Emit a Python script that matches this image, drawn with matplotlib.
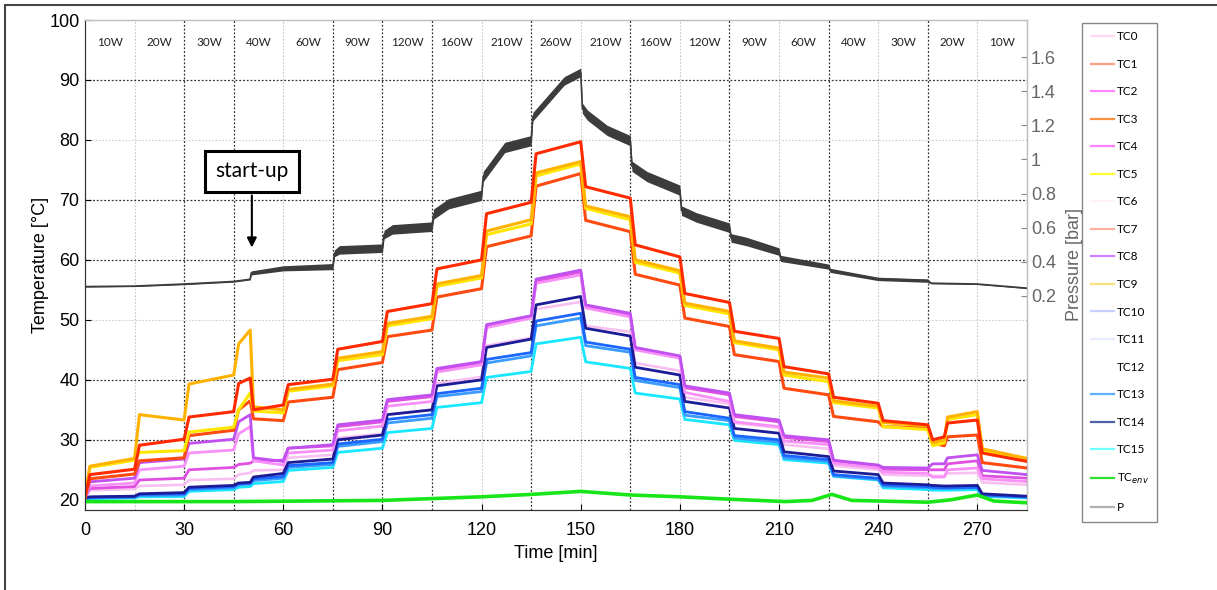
import matplotlib.pyplot as plt
from matplotlib.lines import Line2D
from matplotlib.patches import Rectangle

plt.rcParams['font.family'] = ['Liberation Sans', 'DejaVu Sans']

# time knots [min] for thermocouple traces: start of step, knee after step, end of step
t_knots = [0, 1.5, 15, 16.5, 30, 31.5, 45, 46.5, 50, 51, 60, 61.5, 75, 76.5, 90, 91.5,
           105, 106.5, 120, 121.5, 135, 136.5, 150, 151.5, 165, 166.5, 180, 181.5,
           195, 196.5, 210, 211.5, 225, 226.5, 240, 241.5, 255, 256.5, 260, 261,
           270, 271.5, 285]

tc3 = [20.4, 24.2, 25.1, 29.1, 30.1, 33.8, 34.7, 39.4, 40.3, 35.0, 35.8, 39.2, 40.1, 45.1, 46.4,
       51.4, 52.7, 58.5, 60.0, 67.7, 69.6, 77.7, 79.7, 72.2, 70.3, 62.5, 60.5, 54.4, 52.9,
       48.1, 46.9, 42.2, 41.0, 37.1, 36.1, 33.2, 32.5, 30.0, 30.5, 32.8, 33.3, 27.8, 26.4]
tc9 = [20.5, 25.6, 26.9, 34.2, 33.3, 39.3, 40.8, 46.0, 48.3, 35.5, 35.0, 38.4, 39.3, 43.6, 44.7,
       49.4, 50.6, 56.0, 57.4, 64.8, 66.7, 74.5, 76.4, 69.0, 67.2, 60.0, 58.2, 52.8, 51.4,
       46.5, 45.3, 41.3, 40.3, 36.5, 35.6, 32.9, 32.3, 29.5, 30.0, 33.8, 34.7, 28.5, 26.9]
tc5 = [20.4, 25.4, 26.6, 27.9, 28.2, 31.3, 32.1, 35.0, 37.8, 34.8, 34.5, 38.1, 39.0, 43.2, 44.2,
       49.0, 50.2, 55.6, 57.0, 64.2, 66.0, 74.0, 76.0, 68.6, 66.7, 59.6, 57.8, 52.4, 51.0,
       46.2, 45.0, 40.8, 39.7, 36.2, 35.3, 32.2, 31.7, 29.0, 29.5, 33.4, 34.2, 28.3, 26.7]
tc1 = [20.4, 23.5, 24.3, 26.5, 27.0, 30.7, 31.6, 35.0, 36.5, 33.5, 33.2, 36.3, 37.1, 41.7, 42.9,
       47.2, 48.3, 53.8, 55.2, 62.2, 64.0, 72.3, 74.4, 66.6, 64.7, 57.6, 55.8, 50.3, 48.9,
       44.2, 43.05, 38.6, 37.5, 33.9, 33.0, 32.2, 32.0, 29.5, 29.0, 30.5, 30.8, 26.2, 25.3]
tc8 = [20.4, 23.0, 23.6, 26.2, 26.8, 29.4, 30.1, 33.0, 34.2, 27.0, 26.4, 28.6, 29.2, 32.5, 33.3,
       36.7, 37.5, 41.9, 43.05, 49.2, 50.7, 56.8, 58.3, 52.5, 51.1, 45.4, 44.0, 39.0, 37.8,
       34.2, 33.3, 30.7, 30.0, 26.6, 25.8, 25.4, 25.3, 26.0, 26.0, 27.0, 27.5, 24.9, 24.2]
tc2 = [20.4, 22.3, 22.8, 25.0, 25.6, 27.8, 28.3, 31.0, 32.2, 26.5, 25.8, 27.8, 28.3, 31.5, 32.3,
       35.6, 36.4, 41.3, 42.5, 48.7, 50.3, 56.1, 57.5, 52.0, 50.5, 45.0, 43.6, 37.9, 36.4,
       33.0, 32.2, 29.8, 29.2, 26.1, 25.3, 24.6, 24.4, 23.8, 23.8, 25.0, 25.3, 23.5, 23.05]
tc4 = [20.3, 21.9, 22.2, 23.3, 23.6, 25.0, 25.4, 25.9, 26.1, 26.5, 26.6, 28.6, 29.0, 32.2, 33.0,
       36.4, 37.2, 41.7, 42.8, 48.9, 50.5, 56.4, 58.0, 52.3, 50.8, 45.2, 43.8, 38.7, 37.5,
       33.9, 33.0, 30.4, 29.7, 26.5, 25.6, 25.1, 25.0, 25.0, 25.0, 26.0, 26.5, 24.0, 23.6]
tc0 = [20.3, 21.6, 21.8, 22.3, 22.5, 23.3, 23.5, 24.2, 24.5, 24.9, 25.0, 27.0, 27.5, 30.3, 31.0,
       34.2, 35.0, 39.4, 40.5, 45.7, 47.0, 51.8, 53.0, 49.0, 48.0, 42.8, 41.5, 37.1, 36.0,
       32.8, 32.0, 29.2, 28.5, 25.7, 25.0, 24.2, 24.0, 24.0, 24.0, 24.4, 24.5, 22.9, 22.5]
tc14 = [20.3, 20.5, 20.6, 21.0, 21.2, 22.1, 22.4, 22.8, 22.9, 23.8, 24.4, 26.2, 26.8, 30.0, 30.8,
        34.2, 35.0, 39.0, 40.0, 45.4, 46.8, 52.5, 53.9, 48.6, 47.3, 42.1, 40.8, 36.4, 35.3,
        31.9, 31.1, 28.0, 27.2, 24.8, 24.2, 22.8, 22.5, 22.4, 22.3, 22.3, 22.4, 21.0, 20.6]
tc13 = [20.2, 20.4, 20.5, 20.9, 21.0, 21.9, 22.2, 22.7, 22.8, 23.5, 23.9, 25.7, 26.2, 29.3, 30.1,
        33.4, 34.2, 37.7, 38.6, 43.4, 44.55, 49.8, 51.1, 46.3, 45.1, 40.4, 39.2, 34.7, 33.6,
        30.7, 30.0, 27.4, 26.7, 24.2, 23.6, 22.5, 22.2, 22.1, 22.0, 22.0, 22.1, 20.8, 20.5]
tc10 = [20.2, 20.3, 20.4, 20.7, 20.8, 21.7, 22.0, 22.5, 22.6, 23.2, 23.6, 25.4, 25.9, 28.9, 29.7,
        32.8, 33.6, 37.2, 38.05, 42.8, 44.0, 49.0, 50.3, 45.7, 44.6, 39.9, 38.7, 34.1, 33.2,
        30.3, 29.6, 27.0, 26.4, 24.0, 23.4, 22.3, 22.0, 21.9, 21.9, 21.9, 22.0, 20.7, 20.4]
tc15 = [20.1, 20.2, 20.3, 20.5, 20.55, 21.4, 21.7, 22.1, 22.2, 22.7, 23.05, 24.9, 25.4, 27.9, 28.6,
        31.2, 31.9, 35.4, 36.2, 40.4, 41.4, 46.0, 47.1, 43.0, 41.9, 37.8, 36.8, 33.4, 32.5,
        29.9, 29.2, 26.7, 26.1, 23.9, 23.3, 22.0, 21.7, 21.6, 21.6, 21.6, 21.7, 20.6, 20.3]

env_time = [0, 45, 90, 120, 135, 150, 165, 180, 195, 212, 220, 226, 232, 240, 255, 262, 270, 275, 285]
tc_env = [19.7, 19.7, 19.9, 20.5, 20.9, 21.4, 20.8, 20.5, 20.1, 19.7, 19.9, 20.9, 19.9, 19.8, 19.6,
          20.0, 20.8, 19.8, 19.5]

# pressure [bar] and the half width of its noise band
p_time = [0, 15, 30, 45, 50, 50.3, 60, 75, 75.5, 77, 90, 90.5, 93, 105, 105.5, 110, 120, 120.5,
          127, 135, 135.5, 145, 150, 150.5, 152, 158, 165, 165.5, 170, 180, 180.5, 185, 195,
          195.5, 200, 210, 210.5, 225, 225.5, 240, 255, 256, 270, 285]
pressure = [0.255, 0.258, 0.27, 0.285, 0.298, 0.335, 0.362, 0.372, 0.45, 0.47, 0.48, 0.56, 0.59,
            0.606, 0.68, 0.74, 0.79, 0.90, 1.07, 1.11, 1.25, 1.46, 1.51, 1.30, 1.26, 1.17, 1.11,
            0.96, 0.90, 0.82, 0.70, 0.66, 0.60, 0.54, 0.52, 0.46, 0.42, 0.372, 0.35, 0.30, 0.29,
            0.275, 0.27, 0.246]
p_band = [0.003, 0.003, 0.004, 0.004, 0.004, 0.012, 0.015, 0.018, 0.02, 0.025, 0.025, 0.025,
          0.028, 0.028, 0.03, 0.03, 0.03, 0.03, 0.03, 0.03, 0.025, 0.025, 0.025, 0.03, 0.03,
          0.03, 0.03, 0.03, 0.03, 0.03, 0.028, 0.028, 0.028, 0.025, 0.025, 0.022, 0.018, 0.015,
          0.012, 0.01, 0.01, 0.004, 0.003, 0.003]

power_pos = [7.5, 22.5, 37.5, 52.5, 67.5, 82.5, 97.5, 112.5, 127.5, 142.5, 157.5, 172.5, 187.5,
             202.5, 217.5, 232.5, 247.5, 262.5, 277.5]
power_labels = ['10W', '20W', '30W', '40W', '60W', '90W', '120W', '160W', '210W', '260W', '210W',
                '160W', '120W', '90W', '60W', '40W', '30W', '20W', '10W']

legend_labels = ['TC0', 'TC1', 'TC2', 'TC3', 'TC4', 'TC5', 'TC6', 'TC7', 'TC8', 'TC9', 'TC10',
                 'TC11', 'TC12', 'TC13', 'TC14', 'TC15', 'TC$_{env}$', 'P']
legend_colors = ['#ffd8f4', '#ffa088', '#ff88ff', '#ff9040', '#ff80ff', '#ffff30', '#fff0fc',
                 '#ffb0a0', '#d080ff', '#ffe080', '#c8d0ff', '#e8ecff', '#ffffff', '#60b0ff',
                 '#5060a8', '#70ffff', '#30e030', '#b0b0b0']

fig = plt.figure(figsize=(12.17, 5.90), dpi=100)
ax = fig.add_axes([0.0698, 0.1356, 0.774, 0.8305])
ax2 = ax.twinx()

# grid
for x in [30, 45, 75, 90, 105, 135, 165, 195, 225, 255]:
    ax.axvline(x, color='#333333', ls=(0, (1.5, 1.5)), lw=0.9, zorder=0)
for x in [15, 60, 120, 150, 180, 210, 240, 270]:
    ax.axvline(x, color='#c8c8c8', ls=(0, (1.5, 1.5)), lw=0.8, zorder=0)
for y in [30, 40, 60, 70, 90]:
    ax.axhline(y, color='#333333', ls=(0, (1.5, 1.5)), lw=0.9, zorder=0)
for y in [50, 80]:
    ax.axhline(y, color='#d0d0d0', ls=(0, (1.5, 1.5)), lw=0.8, zorder=0)

ax.plot(t_knots, tc0, color='#f8c0f0', lw=1.9)
ax.plot(t_knots, tc15, color='#19e6ff', lw=2.0)
ax.plot(t_knots, tc10, color='#3a9cff', lw=2.0)
ax.plot(t_knots, tc13, color='#1a66ff', lw=2.0)
ax.plot(t_knots, tc14, color='#1c1c96', lw=2.0)
ax.plot(t_knots, tc4, color='#e050e0', lw=2.0)
ax.plot(t_knots, tc2, color='#f890f8', lw=2.0)
ax.plot(t_knots, tc8, color='#c050f0', lw=2.0)
ax.plot(t_knots, tc1, color='#ff4a10', lw=2.2)
ax.plot(t_knots, tc5, color='#ffe600', lw=2.2)
ax.plot(t_knots, tc9, color='#ffb300', lw=2.2)
ax.plot(t_knots, tc3, color='#ff2a00', lw=2.2)
ax.plot(env_time, tc_env, color='#19e619', lw=2.6)

p_lo = [p - b for p, b in zip(pressure, p_band)]
p_hi = [p + b for p, b in zip(pressure, p_band)]
ax2.fill_between(p_time, p_lo, p_hi, color='#3c3c3c', lw=0)
ax2.plot(p_time, pressure, color='#3c3c3c', lw=1.2)

ax.set_xlim(0, 285)
ax.set_ylim(18.3, 100)
ax2.set_ylim(-1.054, 1.817)
ax.set_xticks([0, 30, 60, 90, 120, 150, 180, 210, 240, 270])
ax.set_yticks([20, 30, 40, 50, 60, 70, 80, 90, 100])
ax2.set_yticks([0.2, 0.4, 0.6, 0.8, 1.0, 1.2, 1.4, 1.6])
ax2.set_yticklabels(['0.2', '0.4', '0.6', '0.8', '1', '1.2', '1.4', '1.6'])

ax.tick_params(direction='in', length=4, labelsize=13, colors='black', pad=4)
ax.tick_params(axis='x', pad=9)
ax2.tick_params(direction='in', length=4, labelsize=13, labelcolor='#666666', color='#888888', pad=3)
ax.set_xlabel('Time [min]', fontsize=13, labelpad=4)
ax.set_ylabel('Temperature [°C]', fontsize=13, labelpad=0)
ax2.set_ylabel('Pressure [bar]', fontsize=13, color='#666666', labelpad=7)

for s in ['left', 'bottom']:
    ax.spines[s].set_color('#333333')
for s in ['right', 'top']:
    ax2.spines[s].set_color('#c0c0c0')
ax2.spines['left'].set_color('#333333')
ax2.spines['bottom'].set_color('#333333')

for x, lab in zip(power_pos, power_labels):
    ax.text(x, 96.2, lab, ha='center', va='center', fontsize=8.5, family='Lato', color='#222222')

ax.annotate('start-up', xy=(50.5, 61.6), xytext=(50.5, 74.8), ha='center', va='center',
            fontsize=15, family='Lato',
            bbox=dict(boxstyle='square,pad=0.5', fc='white', ec='black', lw=2.2),
            arrowprops=dict(arrowstyle='-|>', color='black', lw=1.5, mutation_scale=14))

handles = [Line2D([], [], color=c, lw=1.6) for c in legend_colors]
fig.legend(handles, legend_labels, loc='upper left', bbox_to_anchor=(0.8875, 0.965),
           prop={'family': 'Lato', 'size': 8.5}, labelspacing=1.4, handlelength=2.0,
           handletextpad=0.2, borderpad=0.7, borderaxespad=0.2, fancybox=False,
           edgecolor='#888888', framealpha=1)

fig.patches.append(Rectangle((0.004, -0.02), 1.02, 1.0115, transform=fig.transFigure,
                             fill=False, ec='#444444', lw=1.5))

fig.savefig('out.png', dpi=100)
